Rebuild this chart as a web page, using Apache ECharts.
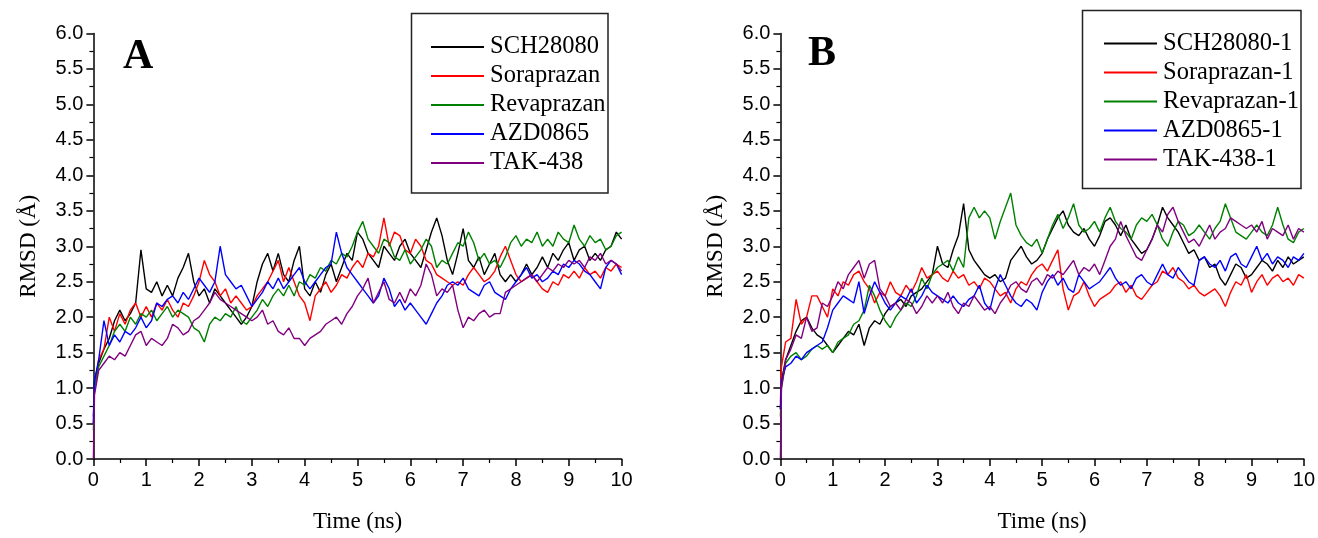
<!DOCTYPE html>
<html>
<head>
<meta charset="utf-8">
<script src="https://cdn.jsdelivr.net/npm/echarts@6/dist/echarts.min.js"></script>
<style>
html,body{margin:0;padding:0;background:#fff;}
#chart{width:1318px;height:538px;}
</style>
</head>
<body>
<div id="chart"></div>
<script>
// Sampling times (ns)
const time = [0,0.02,
0.1,0.2,0.3,0.4,0.5,0.6,0.7,0.8,0.9,1.0,
1.1,1.2,1.3,1.4,1.5,1.6,1.7,1.8,1.9,2.0,
2.1,2.2,2.3,2.4,2.5,2.6,2.7,2.8,2.9,3.0,
3.1,3.2,3.3,3.4,3.5,3.6,3.7,3.8,3.9,4.0,
4.1,4.2,4.3,4.4,4.5,4.6,4.7,4.8,4.9,5.0,
5.1,5.2,5.3,5.4,5.5,5.6,5.7,5.8,5.9,6.0,
6.1,6.2,6.3,6.4,6.5,6.6,6.7,6.8,6.9,7.0,
7.1,7.2,7.3,7.4,7.5,7.6,7.7,7.8,7.9,8.0,
8.1,8.2,8.3,8.4,8.5,8.6,8.7,8.8,8.9,9.0,
9.1,9.2,9.3,9.4,9.5,9.6,9.7,9.8,9.9,10.0];

// Panel A
const namesA = ['SCH28080','Soraprazan','Revaprazan','AZD0865','TAK-438'];
const sch28080 = [0.6,1.1,
1.35,1.55,1.7,1.95,2.1,1.95,2.05,2.2,2.95,2.4,
2.35,2.5,2.3,2.45,2.3,2.55,2.7,2.9,2.5,2.3,
2.4,2.2,2.4,2.3,2.2,2.1,2.0,1.9,2.0,2.15,
2.5,2.75,2.9,2.65,2.9,2.6,2.5,2.8,3.0,2.4,
2.3,2.5,2.35,2.6,2.75,2.5,2.7,2.9,2.8,3.2,
3.1,2.9,2.8,2.7,3.0,2.9,2.8,3.0,3.1,2.9,
2.8,2.7,2.95,3.2,3.4,3.15,2.8,2.6,2.9,3.25,
2.8,2.7,2.85,2.6,2.75,2.9,2.6,2.5,2.6,2.5,
2.6,2.75,2.6,2.7,2.85,2.7,2.9,2.8,2.95,3.05,
2.8,2.95,3.0,2.8,2.9,2.8,2.95,3.0,3.2,3.1];
const soraprazan = [0.5,1.0,
1.4,1.55,2.0,1.8,2.05,1.9,2.1,2.2,2.0,2.15,
2.0,2.2,2.1,2.25,2.1,2.0,2.2,2.15,2.3,2.5,
2.8,2.6,2.5,2.3,2.4,2.2,2.3,2.2,2.1,2.15,
2.3,2.4,2.5,2.65,2.8,2.5,2.7,2.5,2.3,2.2,
1.95,2.3,2.4,2.5,2.35,2.45,2.6,2.55,2.7,2.8,
2.7,2.9,2.85,3.0,3.4,3.0,3.2,3.15,2.95,2.9,
3.1,3.0,2.8,2.75,2.6,2.55,2.5,2.45,2.5,2.45,
2.6,2.7,2.6,2.5,2.55,2.65,2.85,3.0,2.8,2.6,
2.5,2.55,2.6,2.5,2.4,2.35,2.5,2.45,2.6,2.55,
2.65,2.55,2.7,2.6,2.65,2.55,2.7,2.65,2.75,2.7];
const revaprazan = [0.4,1.0,
1.3,1.45,1.6,1.8,1.9,1.8,2.0,1.9,2.05,2.0,
2.1,1.95,2.05,2.15,2.0,2.1,2.05,2.0,1.85,1.8,
1.65,1.9,2.0,1.95,2.05,2.0,2.15,1.95,1.9,2.0,
2.1,2.25,2.15,2.3,2.4,2.3,2.45,2.3,2.5,2.45,
2.6,2.55,2.7,2.65,2.8,2.75,2.9,2.85,3.0,3.2,
3.35,3.1,3.0,2.9,3.1,3.05,2.85,2.8,2.95,2.75,
2.85,2.95,3.1,3.0,2.7,2.8,2.75,2.9,3.05,3.0,
3.2,3.05,2.8,2.9,2.75,2.8,2.7,2.85,3.05,3.15,
3.0,3.1,3.05,3.2,3.0,3.1,3.0,3.2,3.1,3.05,
3.3,3.1,3.0,3.15,3.05,3.1,2.95,3.0,3.15,3.2];
const azd0865 = [0.5,1.1,
1.4,1.95,1.6,1.75,1.65,1.8,1.75,1.85,2.0,1.85,
1.95,2.2,2.15,2.25,2.3,2.2,2.35,2.25,2.4,2.55,
2.45,2.35,2.5,3.0,2.6,2.5,2.4,2.45,2.3,2.15,
2.25,2.35,2.5,2.4,2.55,2.4,2.5,2.6,2.7,2.5,
2.4,2.5,2.6,2.7,2.75,3.2,2.9,2.7,2.6,2.5,
2.4,2.3,2.2,2.3,2.55,2.4,2.15,2.25,2.1,2.2,
2.1,2.0,1.9,2.05,2.2,2.3,2.45,2.5,2.45,2.55,
2.4,2.35,2.3,2.45,2.5,2.35,2.3,2.25,2.4,2.5,
2.6,2.7,2.55,2.6,2.5,2.55,2.65,2.6,2.75,2.7,
2.8,2.75,2.65,2.6,2.5,2.4,2.7,2.8,2.75,2.6];
const tak438 = [0.0,0.9,
1.25,1.35,1.45,1.4,1.5,1.45,1.6,1.75,1.8,1.6,
1.7,1.65,1.6,1.7,1.9,1.85,1.75,1.8,1.95,2.0,
2.1,2.2,2.35,2.25,2.2,2.15,2.1,2.05,2.0,1.95,
2.0,2.1,1.9,1.95,1.8,1.75,1.85,1.7,1.7,1.6,
1.7,1.75,1.8,1.9,1.95,2.0,1.9,2.05,2.15,2.3,
2.4,2.55,2.2,2.35,2.5,2.25,2.2,2.35,2.2,2.4,
2.3,2.45,2.75,2.6,2.3,2.4,2.35,2.45,2.1,1.85,
2.0,1.95,2.05,2.1,2.0,2.05,2.05,2.35,2.4,2.45,
2.5,2.55,2.6,2.5,2.6,2.7,2.65,2.75,2.7,2.8,
2.75,2.8,2.7,2.85,2.8,2.9,2.75,2.8,2.75,2.65];

// Panel B
const namesB = ['SCH28080-1','Soraprazan-1','Revaprazan-1','AZD0865-1','TAK-438-1'];
const sch28080_1 = [0.7,1.1,
1.4,1.6,1.8,1.95,2.0,1.85,1.75,1.7,1.6,1.5,
1.6,1.7,1.8,1.75,1.9,1.6,1.85,1.95,1.9,2.05,
2.15,2.2,2.25,2.15,2.3,2.35,2.4,2.5,2.6,3.0,
2.75,2.7,2.95,3.15,3.6,2.95,2.8,2.7,2.6,2.55,
2.6,2.5,2.55,2.8,2.9,3.0,2.85,2.75,2.8,2.9,
3.1,3.25,3.4,3.5,3.3,3.2,3.15,3.25,3.1,3.0,
3.15,3.35,3.4,3.3,3.15,3.3,3.1,3.0,2.9,2.95,
3.1,3.3,3.55,3.4,3.3,3.2,3.05,2.9,2.95,2.8,
2.85,2.7,2.75,2.55,2.45,2.6,2.75,2.7,2.55,2.6,
2.7,2.8,2.75,2.65,2.8,2.7,2.85,2.75,2.8,2.85];
const soraprazan_1 = [0.8,1.3,
1.65,1.7,2.25,1.9,2.0,2.3,2.3,2.15,2.0,2.4,
2.3,2.5,2.45,2.6,2.65,2.5,2.4,2.2,2.35,2.3,
2.5,2.35,2.3,2.45,2.35,2.5,2.7,2.55,2.6,2.65,
2.55,2.5,2.65,2.55,2.6,2.45,2.5,2.4,2.55,2.5,
2.4,2.3,2.35,2.2,2.4,2.5,2.45,2.6,2.7,2.75,
2.65,2.8,2.95,2.4,2.1,2.3,2.35,2.5,2.3,2.15,
2.25,2.3,2.35,2.45,2.5,2.35,2.45,2.3,2.25,2.35,
2.45,2.5,2.65,2.6,2.7,2.55,2.5,2.4,2.45,2.35,
2.3,2.35,2.4,2.3,2.15,2.35,2.5,2.45,2.6,2.35,
2.5,2.6,2.45,2.55,2.6,2.5,2.55,2.45,2.6,2.55];
const revaprazan_1 = [0.6,1.0,
1.35,1.45,1.5,1.4,1.45,1.55,1.6,1.55,1.6,1.5,
1.65,1.7,1.75,1.9,1.95,2.1,2.45,2.3,2.1,1.95,
1.85,2.0,2.1,2.2,2.15,2.3,2.55,2.4,2.6,2.7,
2.75,2.8,2.65,2.85,2.7,3.4,3.55,3.4,3.5,3.4,
3.1,3.35,3.55,3.75,3.3,3.15,3.05,3.0,3.1,2.9,
3.1,3.3,3.45,3.25,3.4,3.6,3.3,3.2,3.25,3.35,
3.2,3.4,3.55,3.35,3.25,3.2,3.1,3.3,3.4,3.35,
3.45,3.3,3.1,3.0,3.2,3.35,3.3,3.15,3.2,3.3,
3.2,3.1,3.25,3.35,3.6,3.4,3.2,3.15,3.1,3.2,
3.3,3.2,3.15,3.3,3.55,3.3,3.1,3.05,3.2,3.25];
const azd0865_1 = [0.7,1.1,
1.3,1.35,1.45,1.4,1.5,1.55,1.6,1.65,1.85,2.1,
2.2,2.3,2.25,2.2,2.5,2.05,2.3,2.5,2.35,2.2,
2.1,2.2,2.3,2.25,2.4,2.2,2.3,2.45,2.35,2.3,
2.25,2.2,2.3,2.2,2.15,2.25,2.3,2.45,2.2,2.1,
2.4,2.6,2.45,2.3,2.2,2.15,2.25,2.2,2.1,2.35,
2.5,2.6,2.45,2.55,2.4,2.35,2.6,2.5,2.4,2.45,
2.5,2.6,2.7,2.55,2.45,2.5,2.4,2.55,2.6,2.5,
2.45,2.6,2.75,2.6,2.55,2.7,2.6,2.5,2.45,2.8,
2.85,2.75,2.7,2.8,2.65,2.85,2.9,2.75,2.7,2.85,
3.0,2.8,2.9,2.75,2.85,2.8,2.7,2.85,2.8,2.9];
const tak438_1 = [0.0,1.0,
1.4,1.55,1.75,1.7,2.0,1.8,1.85,2.2,2.15,2.3,
2.5,2.4,2.6,2.7,2.8,2.55,2.75,2.8,2.4,2.3,
2.15,2.2,2.1,2.25,2.2,2.05,2.15,2.3,2.2,2.3,
2.2,2.35,2.15,2.05,2.2,2.15,2.3,2.2,2.1,2.15,
2.05,2.2,2.3,2.45,2.5,2.4,2.35,2.5,2.55,2.45,
2.6,2.55,2.65,2.6,2.7,2.8,2.6,2.7,2.65,2.75,
2.6,2.8,3.0,3.1,3.35,3.15,3.0,2.85,2.8,2.95,
3.1,3.3,3.2,3.45,3.55,3.35,3.2,3.05,3.1,3.0,
3.15,3.3,3.1,3.2,3.25,3.4,3.35,3.3,3.25,3.3,
3.2,3.35,3.1,3.25,3.2,3.15,3.3,3.1,3.25,3.2];

const xTicks = [0,1,2,3,4,5,6,7,8,9,10];
const yTickLabels = ['0.0','0.5','1.0','1.5','2.0','2.5','3.0','3.5','4.0','4.5','5.0','5.5','6.0'];

const colors = ['#000000','#ff0000','#008000','#0000ff','#800080'];
const dataA = [sch28080, soraprazan, revaprazan, azd0865, tak438];
const dataB = [sch28080_1, soraprazan_1, revaprazan_1, azd0865_1, tak438_1];

const SERIF = '"Liberation Serif","Times New Roman",serif';
const SANS = '"Liberation Sans",Arial,sans-serif';

function pairs(vals){ return vals.map((v,i)=>[time[i], v]); }

function xAxisCfg(gi){
  return {
    gridIndex: gi, type:'value', min:0, max:10, interval:1,
    name:'Time (ns)', nameLocation:'middle', nameGap:51,
    nameTextStyle:{fontFamily:SERIF, fontSize:23, color:'#000'},
    axisLine:{show:true, onZero:false, lineStyle:{color:'#000', width:1.5}},
    axisTick:{show:true, inside:false, length:7, lineStyle:{color:'#000', width:1.5}},
    minorTick:{show:true, splitNumber:2, length:4, lineStyle:{color:'#000', width:1.2}},
    splitLine:{show:false},
    axisLabel:{fontFamily:SANS, fontSize:20, color:'#000', margin:11,
      formatter:function(v){ return xTicks.indexOf(v) >= 0 ? String(v) : ''; }}
  };
}
function yAxisCfg(gi){
  return {
    gridIndex: gi, type:'value', min:0, max:6, interval:0.5,
    name:'RMSD (Å)', nameLocation:'middle', nameGap:53,
    nameTextStyle:{fontFamily:SERIF, fontSize:23, color:'#000'},
    axisLine:{show:true, onZero:false, lineStyle:{color:'#000', width:1.5}},
    axisTick:{show:true, inside:false, length:7, lineStyle:{color:'#000', width:1.5}},
    minorTick:{show:true, splitNumber:2, length:4, lineStyle:{color:'#000', width:1.2}},
    splitLine:{show:false},
    axisLabel:{fontFamily:SANS, fontSize:20, color:'#000', margin:10,
      formatter:function(v){ const i = Math.round(v*2); return yTickLabels[i] || ''; }}
  };
}

const series = [];
namesA.forEach((n,i)=>series.push({
  name:n, type:'line', xAxisIndex:0, yAxisIndex:0, data:pairs(dataA[i]),
  showSymbol:false, symbol:'none', lineStyle:{width:1.4, color:colors[i]}, itemStyle:{color:colors[i]}
}));
namesB.forEach((n,i)=>series.push({
  name:n, type:'line', xAxisIndex:1, yAxisIndex:1, data:pairs(dataB[i]),
  showSymbol:false, symbol:'none', lineStyle:{width:1.4, color:colors[i]}, itemStyle:{color:colors[i]}
}));

function legendCfg(names, left, top){
  return {
    data: names, orient:'vertical', left:left, top:top,
    icon:'rect', itemWidth:53, itemHeight:2, itemGap:4,
    selectedMode:false, padding:0,
    textStyle:{fontFamily:SERIF, fontSize:24.5, color:'#000', padding:[0,0,0,1]}
  };
}

const option = {
  animation:false,
  backgroundColor:'#fff',
  grid:[
    {left:93.4, right:696.4, top:33.5, bottom:75.5, containLabel:false},
    {left:780.4, right:10, top:33.5, bottom:75.5, containLabel:false}
  ],
  xAxis:[xAxisCfg(0), xAxisCfg(1)],
  yAxis:[yAxisCfg(0), yAxisCfg(1)],
  legend:[legendCfg(namesA, 431, 34.5), legendCfg(namesB, 1104, 31)],
  graphic:[
    {type:'rect', shape:{x:411.5, y:13.5, width:196.5, height:179.5}, style:{fill:'none', stroke:'#222', lineWidth:1.5}},
    {type:'rect', shape:{x:1082.5, y:10.5, width:218.5, height:178}, style:{fill:'none', stroke:'#222', lineWidth:1.5}},
    {type:'text', left:123, top:36, style:{text:'A', font:'bold 42px '+SERIF, fill:'#000'}},
    {type:'text', left:808, top:33, style:{text:'B', font:'bold 42px '+SERIF, fill:'#000'}}
  ],
  series: series
};

const chart = echarts.init(document.getElementById('chart'), null, {renderer:'canvas'});
chart.setOption(option);
</script>
</body>
</html>
